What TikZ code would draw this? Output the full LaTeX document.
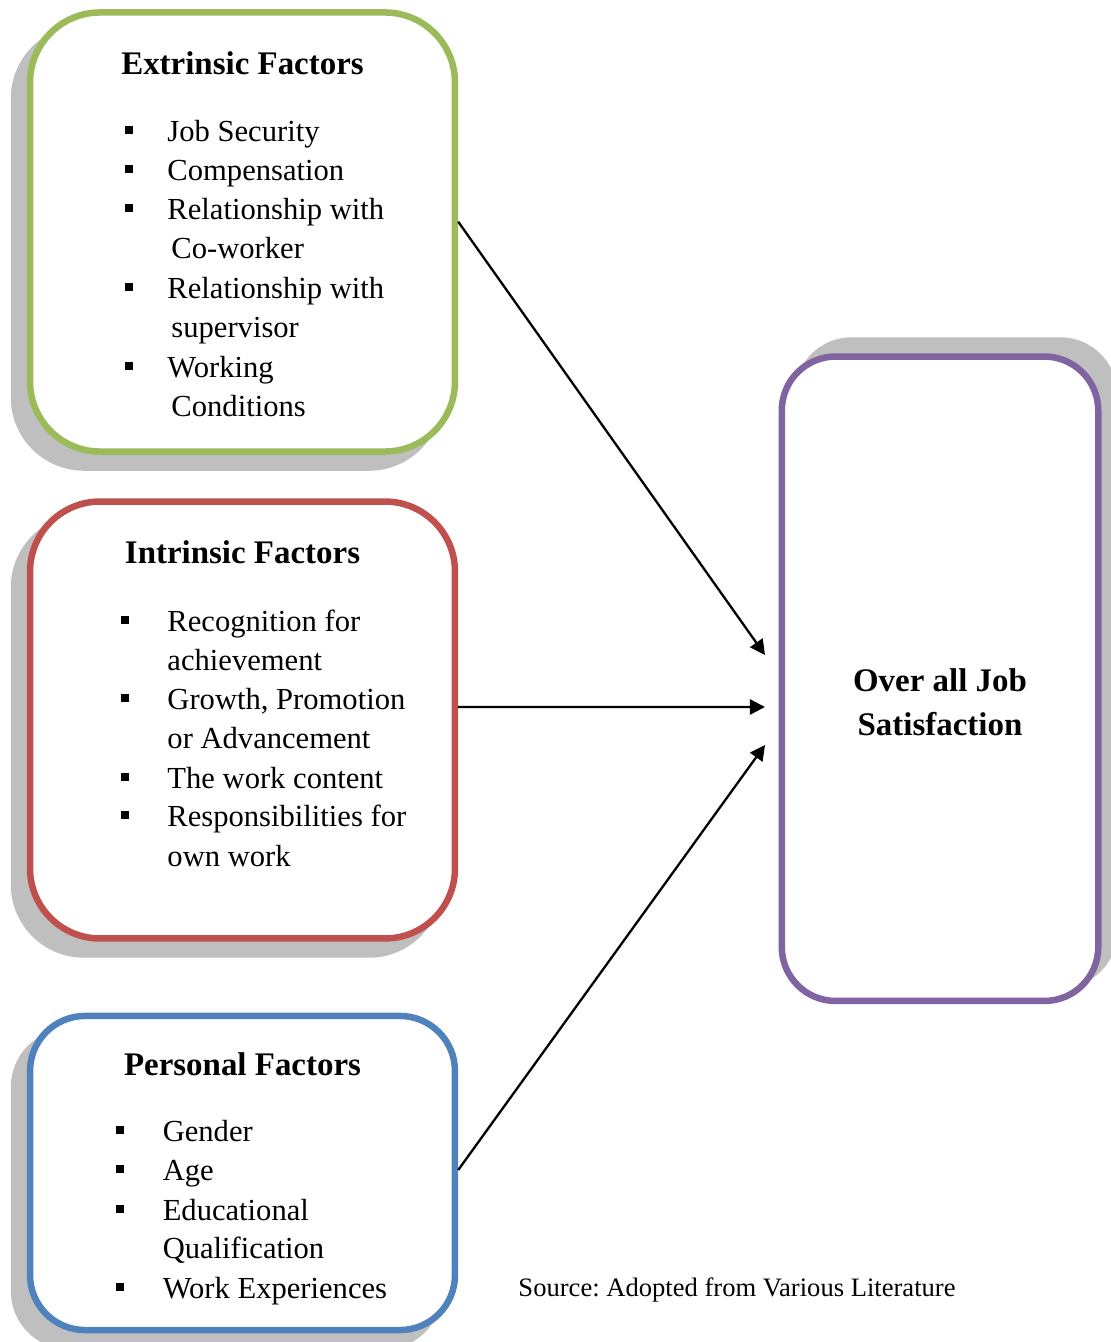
\documentclass[tikz,border=0pt]{standalone}
\usepackage{fontspec}
\setmainfont{Liberation Serif}
\usetikzlibrary{positioning,arrows.meta,shadows}
\definecolor{extgreen}{HTML}{9BBB59}
\definecolor{intred}{HTML}{C0504D}
\definecolor{perblue}{HTML}{4F81BD}
\definecolor{satpurple}{HTML}{8064A2}
\definecolor{shadowgray}{HTML}{BFBFBF}

\begin{document}
% one unit = one pixel of the 1111 x 1342 layout
\begin{tikzpicture}[x=0.425pt, y=-0.425pt,
  factor/.style={draw, fill=white, line width=2.76pt, inner sep=0pt},
  lshadow/.style={drop shadow={shadow xshift=-6.8pt, shadow yshift=-6.8pt,
      opacity=1, fill=shadowgray, draw=shadowgray, line width=2.76pt}},
  rshadow/.style={drop shadow={shadow xshift=6.8pt, shadow yshift=6.8pt,
      opacity=1, fill=shadowgray, draw=shadowgray, line width=2.76pt}},
  title/.style={anchor=base, inner sep=0pt, font=\bfseries\fontsize{14}{17}\selectfont},
  entry/.style={anchor=base west, inner sep=0pt, font=\fontsize{13}{15}\selectfont},
  bullet/.style={fill=black, inner sep=0pt, minimum size=3.4pt},
  conn/.style={line width=0.98pt, -{Triangle[length=6.4pt, width=6.4pt]}}]
\useasboundingbox (0,0) rectangle (1111,1342);

% Extrinsic factors
\node[factor, lshadow, draw=extgreen, rounded corners=29.75pt,
  minimum width=180.6pt, minimum height=186.6pt] (ext) at (242.5,232) {};
\node[title] (ext-title) at (242.5,75) {Extrinsic Factors};
\foreach \i/\x/\y/\t in {1/167/141.7/Job Security, 2/167/180.6/Compensation,
  3/167/220/Relationship with, 4/171/259/Co-worker, 5/167/298.5/Relationship with,
  6/171/338/supervisor, 7/167/377.5/Working, 8/171/417/Conditions} {
  \node[entry] (ext-\i) at (\x,\y) {\t};
}
\foreach \i/\y in {1/130.2, 2/169.1, 3/208.5, 5/287, 7/366} {
  \node[bullet] (ext-b\i) at (129,\y) {};
}

% Intrinsic factors
\node[factor, lshadow, draw=intred, rounded corners=29.75pt,
  minimum width=180.6pt, minimum height=185.7pt] (int) at (242.5,720) {};
\node[title] (int-title) at (242.5,563) {Intrinsic Factors};
\foreach \i/\y/\t in {1/631.7/Recognition for, 2/670.5/achievement,
  3/709.8/{Growth, Promotion}, 4/748.5/or Advancement, 5/788/The work content,
  6/826.8/Responsibilities for, 7/866.5/own work} {
  \node[entry] (int-\i) at (167,\y) {\t};
}
\foreach \i/\y in {1/620.2, 3/698.3, 5/776.5, 6/815.3} {
  \node[bullet] (int-b\i) at (125,\y) {};
}

% Personal factors
\node[factor, lshadow, draw=perblue, rounded corners=23.4pt,
  minimum width=180.6pt, minimum height=133.5pt] (per) at (242.5,1173) {};
\node[title] (per-title) at (242.5,1075) {Personal Factors};
\foreach \i/\y/\t in {1/1141.7/Gender, 2/1180.5/Age, 3/1220/Educational,
  4/1258.5/Qualification, 5/1298/Work Experiences} {
  \node[entry] (per-\i) at (162.3,\y) {\t};
}
\foreach \i/\y in {1/1130.2, 2/1169, 3/1208.5, 5/1286.5} {
  \node[bullet] (per-b\i) at (120,\y) {};
}

% Over all job satisfaction
\node[factor, rshadow, draw=satpurple, rounded corners=22.95pt,
  minimum width=134.5pt, minimum height=273.9pt] (sat) at (940,678.75) {};
\node[title] (sat-l1) at (940,691.7) {Over all Job};
\node[title] (sat-l2) at (940,735.5) {Satisfaction};

% Connectors
\coordinate (sat-in1) at (765,655);
\coordinate (sat-in2) at (765,707);
\coordinate (sat-in3) at (765,745);
\draw[conn] ([yshift=4.38pt]ext.east) -- (sat-in1);
\draw[conn] ([yshift=5.53pt]int.east) -- (sat-in2);
\draw[conn] ([yshift=1.28pt]per.east) -- (sat-in3);

\node[anchor=base west, inner sep=0pt, font=\fontsize{11.3}{13}\selectfont\frenchspacing]
  (source) at (518,1296.7) {Source: Adopted from Various Literature};
\end{tikzpicture}
\end{document}
